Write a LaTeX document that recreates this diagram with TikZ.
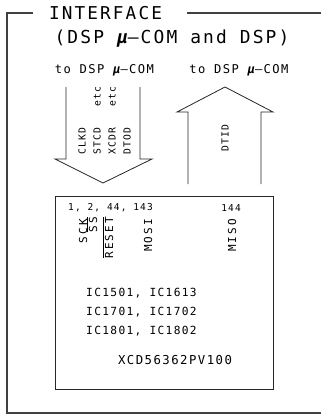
\documentclass[tikz,border=0pt]{standalone}
\usepackage{fontspec}
\newfontfamily\cadfont[LetterSpace=12]{DejaVu Sans Mono}
\newcommand\ovl[1]{$\overline{\mbox{#1}}$}
\newcommand\mupre{{\bfseries\itshape μ}–}
\begin{document}
\begin{tikzpicture}[
  x=1pt, y=-1pt,
  lbl/.style={inner sep=0pt, font=\cadfont\fontsize{#1}{#1}\selectfont},
  vtxt/.style={lbl=9.7, rotate=90, anchor=west},
  pin/.style={inner sep=0pt, rotate=90, anchor=east,
    font=\cadfont\fontsize{11}{11}\selectfont\addfontfeature{LetterSpace=18}},
  frame/.style={line width=1.1pt, black!75},
  outline/.style={line width=0.8pt, black!85},
]
  \useasboundingbox (0,0) rectangle (321,415);

  % outer frame with title
  \node[lbl=17.7] (title) at (105.5,13) {INTERFACE};
  \coordinate (tl) at (7,13);
  \coordinate (bl) at (7,413);
  \coordinate (br) at (321,413);
  \coordinate (tr) at (321,13);
  \draw[frame] ([xshift=-16pt]title.west) -- (tl) -- (bl) -- (br);
  \draw[frame] ([xshift=25pt]title.east) -- (tr);

  \node[lbl=17.9] (sub) at (172,39) {(DSP \mupre COM and DSP)};
  \node[lbl=12.1] (todn) at (104.5,70) {to DSP \mupre COM};
  \node[lbl=12.1] (toup) at (239,70) {to DSP \mupre COM};

  % down arrow
  \draw[outline] (66,87) -- (66,159) -- (55,159) -- (103,183)
    -- (152,159) -- (140,159) -- (140,87);
  \node[vtxt] (clkd) at (82,155) {CLKD};
  \node[vtxt] (stcd) at (97,155) {STCD~~~etc};
  \node[vtxt] (xcdr) at (112,155) {XCDR~~~etc};
  \node[vtxt] (dtod) at (127,155) {DTOD};

  % up arrow
  \draw[outline] (188,184) -- (188,112) -- (177,112) -- (225,87)
    -- (273,112) -- (261,112) -- (261,184);
  \node[lbl=9.7, rotate=90] (dtid) at (225,138) {DTID};

  % IC block
  \draw[outline] (55,196) rectangle (273,389);
  \node[lbl=9.5, anchor=west] (pins) at (68,208) {1, 2, 44, 143};
  \node[lbl=9.5] (pmiso) at (231,208) {144};
  \node[pin] (sck) at (83,219) {SCK};
  \node[pin] (ss) at (92,217) {\ovl{SS}};
  \node[pin] (reset) at (108,217) {\ovl{RESET}};
  \node[pin] (mosi) at (148,219) {MOSI};
  \node[pin] (miso) at (232,219) {MISO};

  \node[lbl=11.2, anchor=west, align=left,
    font=\cadfont\fontsize{11.2}{19}\selectfont] (ics) at (86,312)
    {IC1501, IC1613\\IC1701, IC1702\\IC1801, IC1802};
  \node[lbl=12.3] (part) at (175,360) {XCD56362PV100};
\end{tikzpicture}
\end{document}
